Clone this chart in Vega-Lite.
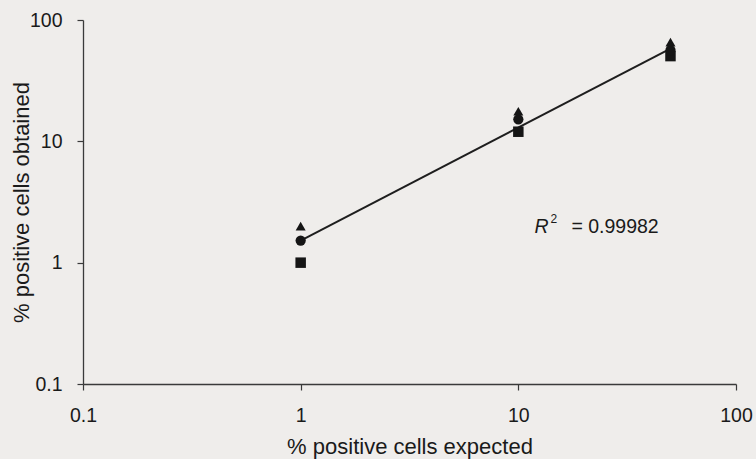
{
  "$schema": "https://vega.github.io/schema/vega-lite/v6.json",
  "width": 653,
  "height": 364,
  "autosize": {"type": "none"},
  "padding": {"left": 83, "top": 20, "right": 20, "bottom": 75},
  "background": "#efedeb",
  "config": {
    "view": {"stroke": null},
    "font": "Liberation Sans",
    "axis": {
      "grid": false,
      "domainColor": "#3a3a3a",
      "domainWidth": 1.3,
      "tickColor": "#3a3a3a",
      "tickWidth": 1.2,
      "tickSize": 6,
      "labelFont": "Liberation Sans",
      "labelFontSize": 19.5,
      "labelColor": "#1a1a1a",
      "titleFont": "Liberation Sans",
      "titleFontSize": 22,
      "titleFontWeight": "normal",
      "titleColor": "#1a1a1a",
      "labelOverlap": false,
      "labelFlush": false,
      "labelBound": false
    }
  },
  "datasets": {
    "points": [
      {"expected": 1, "obtained": 1.0, "series": "square"},
      {"expected": 1, "obtained": 1.52, "series": "circle"},
      {"expected": 1, "obtained": 2.0, "series": "triangle"},
      {"expected": 10, "obtained": 12.0, "series": "square"},
      {"expected": 10, "obtained": 15.2, "series": "circle"},
      {"expected": 10, "obtained": 17.7, "series": "triangle"},
      {"expected": 50, "obtained": 50.4, "series": "square"},
      {"expected": 50, "obtained": 56.5, "series": "circle"},
      {"expected": 50, "obtained": 65.8, "series": "triangle"}
    ],
    "fit": [
      {"expected": 1, "obtained": 1.52},
      {"expected": 48, "obtained": 56}
    ],
    "note": [
      {"expected": 11.85, "obtained": 1.74}
    ]
  },
  "layer": [
    {
      "data": {"name": "fit"},
      "mark": {"type": "line", "color": "#1e1e1e", "strokeWidth": 2},
      "encoding": {
        "x": {
          "field": "expected", "type": "quantitative",
          "scale": {"type": "log", "domain": [0.1, 100], "nice": false},
          "axis": {
            "title": "% positive cells expected",
            "values": [0.1, 1, 10, 100],
            "format": "~g",
            "labelPadding": 16,
            "titleY": 69,
            "titleBaseline": "alphabetic"
          }
        },
        "y": {
          "field": "obtained", "type": "quantitative",
          "scale": {"type": "log", "domain": [0.1, 100], "nice": false},
          "axis": {
            "title": "% positive cells obtained",
            "values": [0.1, 1, 10, 100],
            "format": "~g",
            "labelPadding": 15,
            "titleX": -55,
            "titleY": 182,
            "titleAngle": -90,
            "titleBaseline": "alphabetic",
            "titleAlign": "center"
          }
        }
      }
    },
    {
      "data": {"name": "points"},
      "mark": {"type": "point", "filled": true, "opacity": 1, "color": "#151515"},
      "encoding": {
        "x": {"field": "expected", "type": "quantitative"},
        "y": {"field": "obtained", "type": "quantitative"},
        "shape": {
          "field": "series", "type": "nominal",
          "scale": {"domain": ["square", "circle", "triangle"], "range": ["square", "circle", "triangle-up"]},
          "legend": null
        },
        "size": {
          "field": "series", "type": "nominal",
          "scale": {"domain": ["square", "circle", "triangle"], "range": [110, 100, 110]},
          "legend": null
        }
      }
    },
    {
      "data": {"name": "note"},
      "mark": {"type": "text", "text": "R", "fontStyle": "italic", "fontSize": 19.5, "align": "left", "baseline": "alphabetic", "color": "#1a1a1a"},
      "encoding": {
        "x": {"field": "expected", "type": "quantitative"},
        "y": {"field": "obtained", "type": "quantitative"}
      }
    },
    {
      "data": {"name": "note"},
      "mark": {"type": "text", "text": "2", "fontSize": 12, "align": "left", "baseline": "alphabetic", "dx": 16, "dy": -10, "color": "#1a1a1a"},
      "encoding": {
        "x": {"field": "expected", "type": "quantitative"},
        "y": {"field": "obtained", "type": "quantitative"}
      }
    },
    {
      "data": {"name": "note"},
      "mark": {"type": "text", "text": "= 0.99982", "fontSize": 19.5, "align": "left", "baseline": "alphabetic", "dx": 37, "color": "#1a1a1a"},
      "encoding": {
        "x": {"field": "expected", "type": "quantitative"},
        "y": {"field": "obtained", "type": "quantitative"}
      }
    }
  ]
}
